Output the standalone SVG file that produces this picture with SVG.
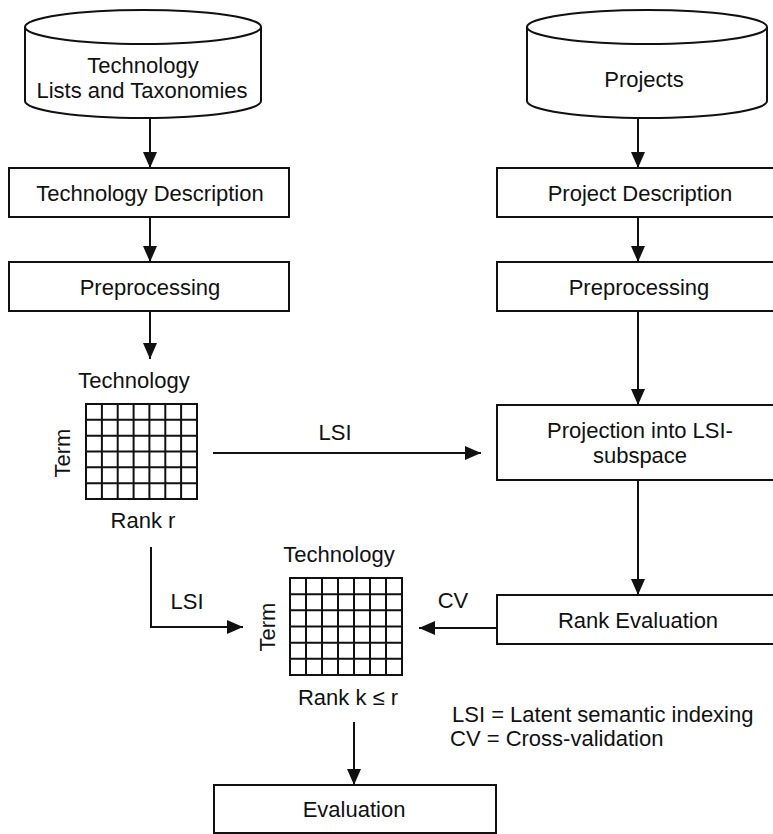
<svg xmlns="http://www.w3.org/2000/svg" width="773" height="834" viewBox="0 0 773 834">
<style>
  text { font-family: "Liberation Sans", Arial, sans-serif; font-size: 22px; fill: #111; text-anchor: middle; }
  .box { fill: #fff; stroke: #111; stroke-width: 2; }
  .line { fill: none; stroke: #111; stroke-width: 2; }
  .grid { fill: none; stroke: #111; stroke-width: 2; }
  .lg { text-anchor: start; }
</style>
<defs>
  <marker id="arr" markerUnits="userSpaceOnUse" markerWidth="17" markerHeight="15" refX="16" refY="7" orient="auto">
    <path d="M0,0 L16,7 L0,14 z" fill="#111"/>
  </marker>
</defs>
<rect width="773" height="834" fill="#fff"/>

<g id="connectors">
  <line class="line" x1="150" y1="118" x2="150" y2="168" marker-end="url(#arr)"/>
  <line class="line" x1="150" y1="217" x2="150" y2="262" marker-end="url(#arr)"/>
  <line class="line" x1="150" y1="311" x2="150" y2="359" marker-end="url(#arr)"/>
  <line class="line" x1="638" y1="118" x2="638" y2="168" marker-end="url(#arr)"/>
  <line class="line" x1="638" y1="217" x2="638" y2="262" marker-end="url(#arr)"/>
  <line class="line" x1="638" y1="311" x2="638" y2="405" marker-end="url(#arr)"/>
  <line class="line" x1="638" y1="480" x2="638" y2="595" marker-end="url(#arr)"/>
  <line class="line" x1="213" y1="453" x2="481" y2="453" marker-end="url(#arr)"/>
  <polyline class="line" points="151,547 151,627 243,627" marker-end="url(#arr)"/>
  <line class="line" x1="497" y1="628" x2="419" y2="628" marker-end="url(#arr)"/>
  <line class="line" x1="354" y1="722" x2="354" y2="785" marker-end="url(#arr)"/>
  <text x="335" y="440">LSI</text>
  <text x="187" y="609">LSI</text>
  <text x="453" y="608">CV</text>
</g>

<g id="tech-lists">
  <path class="box" d="M25,27 L25,101 A118,17 0 0 0 261,101 L261,27"/>
  <ellipse class="box" cx="143" cy="27" rx="118" ry="17"/>
  <text x="143" y="73">Technology</text>
  <text x="142" y="98">Lists and Taxonomies</text>
</g>

<g id="projects">
  <path class="box" d="M527,27 L527,101 A120,17 0 0 0 767,101 L767,27"/>
  <ellipse class="box" cx="647" cy="27" rx="120" ry="17"/>
  <text x="644" y="87">Projects</text>
</g>

<g id="tech-desc">
  <rect class="box" x="9" y="168" width="280" height="49"/>
  <text x="150" y="201">Technology Description</text>
</g>

<g id="tech-pre">
  <rect class="box" x="9" y="262" width="280" height="49"/>
  <text x="150" y="295">Preprocessing</text>
</g>

<g id="proj-desc">
  <rect class="box" x="497" y="168" width="290" height="49"/>
  <text x="640" y="201">Project Description</text>
</g>

<g id="proj-pre">
  <rect class="box" x="497" y="262" width="290" height="49"/>
  <text x="639" y="295">Preprocessing</text>
</g>

<g id="projection">
  <rect class="box" x="497" y="405" width="290" height="75"/>
  <text x="640" y="438">Projection into LSI-</text>
  <text x="640" y="463">subspace</text>
</g>

<g id="rank-eval">
  <rect class="box" x="497" y="595" width="290" height="49"/>
  <text x="638" y="628">Rank Evaluation</text>
</g>

<g id="matrix-r">
  <text x="134" y="388">Technology</text>
  <text transform="translate(70,453) rotate(-90)">Term</text>
  <path class="grid" d="M86,404 H197 V499 H86 Z
    M101.9,404 V499 M117.7,404 V499 M133.6,404 V499 M149.4,404 V499 M165.3,404 V499 M181.1,404 V499
    M86,419.8 H197 M86,435.7 H197 M86,451.5 H197 M86,467.3 H197 M86,483.2 H197"/>
  <text x="143" y="528">Rank r</text>
</g>

<g id="matrix-k">
  <text x="339" y="562">Technology</text>
  <text transform="translate(275,627) rotate(-90)">Term</text>
  <path class="grid" d="M290,578 H402 V675 H290 Z
    M306,578 V675 M322,578 V675 M338,578 V675 M354,578 V675 M370,578 V675 M386,578 V675
    M290,594.2 H402 M290,610.3 H402 M290,626.5 H402 M290,642.7 H402 M290,658.8 H402"/>
  <text x="348" y="705">Rank k ≤ r</text>
</g>

<g id="legend">
  <text class="lg" x="452" y="722">LSI = Latent semantic indexing</text>
  <text class="lg" x="450" y="746">CV = Cross-validation</text>
</g>

<g id="evaluation">
  <rect class="box" x="214" y="785" width="282" height="48"/>
  <text x="354" y="817">Evaluation</text>
</g>
</svg>
